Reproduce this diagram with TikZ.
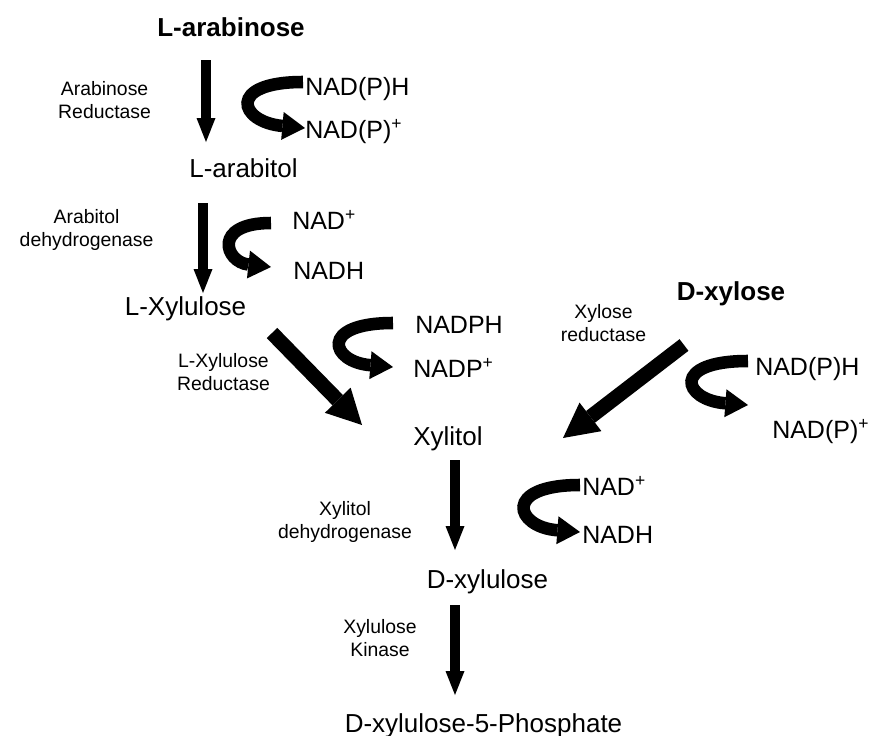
\documentclass[tikz,border=0pt]{standalone}
\usepackage{fontspec}
\setmainfont{Liberation Sans}
\usetikzlibrary{arrows.meta}
% two centred lines whose baseline is the first line
\newcommand\twoline[2]{\begin{tabular}[t]{@{}c@{}}#1\\#2\end{tabular}}

\begin{document}
\begin{tikzpicture}[x=0.75pt,y=-0.75pt,
  compound/.style={inner sep=0pt, anchor=base, font=\fontsize{19.5pt}{23pt}\selectfont},
  sugar/.style={inner sep=0pt, anchor=base, font=\fontsize{19.5pt}{23pt}\selectfont\bfseries},
  cofactor/.style={inner sep=0pt, anchor=base west, font=\fontsize{18.75pt}{22pt}\selectfont},
  enzyme/.style={inner sep=0pt, anchor=base, font=\fontsize{14.55pt}{17.25pt}\selectfont},
  flow/.style={line width=7.5pt, -{Triangle[length=18pt,width=14.25pt,line width=0pt]}},
  bigflow/.style={line width=11pt, -{Triangle[length=26pt,width=27pt,line width=0pt]}},
  cofarc/.style={line width=9.4pt, -{Triangle[length=17pt,width=21pt,line width=0pt]}},
]
\useasboundingbox (0,0) rectangle (869,736);

% metabolites
\node[sugar]    (larab)    at (231,36)    {L-arabinose};
\node[compound] (larabitol) at (243.5,177) {L-arabitol};
\node[compound] (lxyl)     at (185.5,315) {L-Xylulose};
\node[compound] (xylitol)  at (448,445)   {Xylitol};
\node[compound] (dxyl)     at (487.5,588) {D-xylulose};
\node[compound] (dx5p)     at (483.5,732) {D-xylulose-5-Phosphate};
\node[sugar]    (dxylose)  at (731,300)   {D-xylose};

% enzymes
\node[enzyme] (e1) at (104.6,95)  {\twoline{Arabinose}{Reductase}};
\node[enzyme] (e2) at (86.6,223)  {\twoline{Arabitol}{dehydrogenase}};
\node[enzyme] (e3) at (223.5,367) {\twoline{L-Xylulose}{Reductase}};
\node[enzyme] (e4) at (345,515)   {\twoline{Xylitol}{dehydrogenase}};
\node[enzyme] (e5) at (380,633)   {\twoline{Xylulose}{Kinase}};
\node[enzyme] (e6) at (603.5,318) {\twoline{Xylose}{reductase}};

% cofactors
\node[cofactor] (c1a) at (305,95)  {NAD(P)H};
\node[cofactor] (c1b) at (305,138) {NAD(P)\textsuperscript{+}};
\node[cofactor] (c2a) at (292,229) {NAD\textsuperscript{+}};
\node[cofactor] (c2b) at (293,279) {NADH};
\node[cofactor] (c3a) at (415,333) {NADPH};
\node[cofactor] (c3b) at (413,377) {NADP\textsuperscript{+}};
\node[cofactor] (c4a) at (582,495) {NAD\textsuperscript{+}};
\node[cofactor] (c4b) at (582,543) {NADH};
\node[cofactor] (c5a) at (755,375) {NAD(P)H};
\node[cofactor] (c5b) at (772,438) {NAD(P)\textsuperscript{+}};

% ends of the reaction arrows
\coordinate (r1s) at (206,60);  \coordinate (r1e) at (206,142);
\coordinate (r2s) at (203,203); \coordinate (r2e) at (203,293);
\coordinate (r3s) at (272,333); \coordinate (r3e) at (362,425);
\coordinate (r4s) at (455,460); \coordinate (r4e) at (455,550);
\coordinate (r5s) at (455,605); \coordinate (r5e) at (455,695);
\coordinate (r6s) at (684,345); \coordinate (r6e) at (563,438);

\draw[flow]    (r1s) -- (r1e);
\draw[flow]    (r2s) -- (r2e);
\draw[bigflow] (r3s) -- (r3e);
\draw[flow]    (r4s) -- (r4e);
\draw[flow]    (r5s) -- (r5e);
\draw[bigflow] (r6s) -- (r6e);

% ends of the cofactor turns
\coordinate (k1s) at (303,82);  \coordinate (k1e) at (305,128);
\coordinate (k2s) at (271,223); \coordinate (k2e) at (271,267);
\coordinate (k3s) at (393,323); \coordinate (k3e) at (393,367);
\coordinate (k4s) at (580,485); \coordinate (k4e) at (580,532);
\coordinate (k5s) at (748,361); \coordinate (k5e) at (748,405);

\draw[cofarc] (k1s) .. controls (226,82)  and (239,122) .. (k1e);
\draw[cofarc] (k2s) .. controls (212,223) and (225,262) .. (k2e);
\draw[cofarc] (k3s) .. controls (318,323) and (331,362) .. (k3e);
\draw[cofarc] (k4s) .. controls (502,485) and (515,527) .. (k4e);
\draw[cofarc] (k5s) .. controls (670,361) and (683,400) .. (k5e);
\end{tikzpicture}
\end{document}
